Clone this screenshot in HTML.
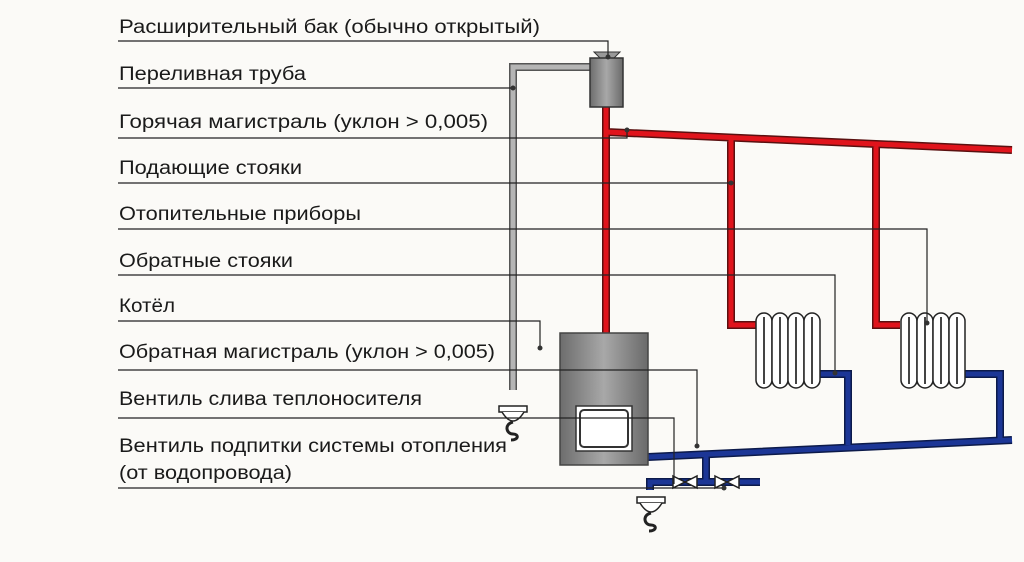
<!DOCTYPE html>
<html><head><meta charset="utf-8"><style>
html,body{margin:0;padding:0;background:#fbfaf7;}
svg{display:block}
text{font-family:"Liberation Sans",sans-serif;font-size:19px;fill:#1a1a1a}
</style></head><body>
<svg width="1024" height="562" viewBox="0 0 1024 562" xmlns="http://www.w3.org/2000/svg">
<defs>
<linearGradient id="g" x1="0" x2="1"><stop offset="0" stop-color="#6d6d6d"/><stop offset="0.5" stop-color="#a8a8a8"/><stop offset="1" stop-color="#6a6a6a"/></linearGradient>
<g id="rad">
 <g fill="#fff" stroke="#222" stroke-width="1.5">
  <rect x="0" y="0" width="16" height="75" rx="8"/>
  <rect x="16" y="0" width="16" height="75" rx="8"/>
  <rect x="32" y="0" width="16" height="75" rx="8"/>
  <rect x="48" y="0" width="16" height="75" rx="8"/>
 </g>
 <g stroke="#444" stroke-width="2"><line x1="8" y1="4" x2="8" y2="71"/><line x1="24" y1="4" x2="24" y2="71"/><line x1="40" y1="4" x2="40" y2="71"/><line x1="56" y1="4" x2="56" y2="71"/></g>
</g>
<g id="funnel" fill="#fff" stroke="#222" stroke-width="1.5">
 <rect x="0" y="0" width="28" height="6"/>
 <path d="M3 6 Q14 24 25 6"/>
 <path d="M14 16 C5 18 7 28 14 28 C20 28 20 34 12 34" fill="none" stroke-width="3"/>
</g>
</defs>

<text x="119" y="33" textLength="421" lengthAdjust="spacingAndGlyphs">Расширительный бак (обычно открытый)</text>
<text x="119" y="80" textLength="187" lengthAdjust="spacingAndGlyphs">Переливная труба</text>
<text x="119" y="128" textLength="369" lengthAdjust="spacingAndGlyphs">Горячая магистраль (уклон &gt; 0,005)</text>
<text x="119" y="174" textLength="183" lengthAdjust="spacingAndGlyphs">Подающие стояки</text>
<text x="119" y="220" textLength="242" lengthAdjust="spacingAndGlyphs">Отопительные приборы</text>
<text x="119" y="267" textLength="174" lengthAdjust="spacingAndGlyphs">Обратные стояки</text>
<text x="119" y="312" textLength="56" lengthAdjust="spacingAndGlyphs">Котёл</text>
<text x="119" y="358" textLength="376" lengthAdjust="spacingAndGlyphs">Обратная магистраль (уклон &gt; 0,005)</text>
<text x="119" y="405" textLength="303" lengthAdjust="spacingAndGlyphs">Вентиль слива теплоносителя</text>
<text x="119" y="452" textLength="388" lengthAdjust="spacingAndGlyphs">Вентиль подпитки системы отопления</text>
<text x="119" y="479" textLength="173" lengthAdjust="spacingAndGlyphs">(от водопровода)</text>

<path d="M513 390 V67 H592" fill="none" stroke="#555" stroke-width="8"/>
<path d="M513 390 V67 H592" fill="none" stroke="#b5b5b5" stroke-width="5"/>

<g fill="none" stroke-linejoin="miter">
<path d="M606 333 V107 M606 132 L1012 150 M731 136 V325 H757 M876 143 V325 H900" stroke="#5a1010" stroke-width="8"/>
<path d="M606 333 V107 M606 132 L1012 150 M731 136 V325 H757 M876 143 V325 H900" stroke="#e0141c" stroke-width="5"/>
<path d="M648 457 L1012 440 M820 374 H848 V445 M965 374 H1000 V441 M706 453 V482 M650 490 V482 H760" stroke="#0c1a4a" stroke-width="8"/>
<path d="M648 457 L1012 440 M820 374 H848 V445 M965 374 H1000 V441 M706 453 V482 M650 490 V482 H760" stroke="#1c3696" stroke-width="5"/>
</g>

<path d="M594 52 H620 L614 58 H600 Z" fill="#999" stroke="#333"/>
<rect x="590" y="58" width="33" height="49" fill="url(#g)" stroke="#333" stroke-width="1.5"/>

<rect x="560" y="333" width="88" height="132" fill="url(#g)" stroke="#444" stroke-width="1.5"/>
<rect x="576" y="406" width="56" height="45" fill="#fff" stroke="#333" stroke-width="1.5"/>
<rect x="580" y="410" width="48" height="37" rx="4" fill="#fff" stroke="#333" stroke-width="2"/>

<use href="#rad" x="756" y="313"/>
<use href="#rad" x="901" y="313"/>

<g fill="#fff" stroke="#222" stroke-width="1.5">
<path d="M673 476 L697 488 V476 L673 488 Z"/>
<path d="M715 476 L739 488 V476 L715 488 Z"/>
</g>

<use href="#funnel" x="499" y="406"/>
<use href="#funnel" x="637" y="497"/>

<g fill="none" stroke="#222" stroke-width="1.2">
<path d="M118 41 H608 V57"/>
<path d="M118 88 H513"/>
<path d="M118 138 H627 V130"/>
<path d="M118 183 H731"/>
<path d="M118 229 H927 V323"/>
<path d="M118 275 H835 V373"/>
<path d="M118 321 H540 V348"/>
<path d="M118 370 H697 V446"/>
<path d="M118 418 H674 V484"/>
<path d="M118 488 H724"/>
</g>
<g fill="#333">
<circle cx="608" cy="57" r="2.5"/><circle cx="513" cy="88" r="2.5"/><circle cx="627" cy="130" r="2.5"/>
<circle cx="731" cy="183" r="2.5"/><circle cx="927" cy="323" r="2.5"/><circle cx="835" cy="373" r="2.5"/>
<circle cx="540" cy="348" r="2.5"/><circle cx="697" cy="446" r="2.5"/><circle cx="724" cy="488" r="2.5"/>
</g>
</svg>
</body></html>
